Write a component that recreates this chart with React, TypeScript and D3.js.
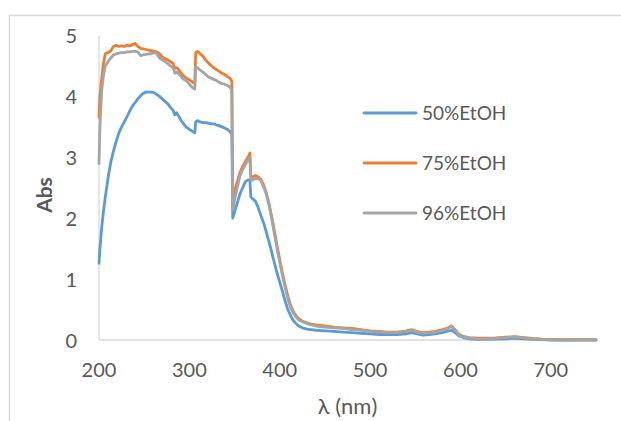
import React from "react";
import * as d3 from "d3";

// Wavelength grid (nm) shared by the three spectra
const wavelengths = [
  200, 201, 203, 205, 207, 210, 213, 216, 219, 222, 225, 228, 231, 234, 237, 240, 243, 246, 249, 252,
  255, 258, 261, 264, 267, 270, 273, 276, 279, 282, 284, 286, 288, 291, 294, 297, 300, 303, 305, 306,
  307, 309, 312, 315, 318, 321, 324, 327, 330, 333, 336, 339, 342, 345, 347, 348, 350, 353, 356, 359,
  362, 365, 367, 368, 370, 373, 376, 379, 382, 385, 388, 391, 394, 397, 400, 403, 406, 409, 412, 415,
  418, 421, 425, 430, 435, 440, 450, 460, 470, 480, 490, 500, 510, 520, 530, 540, 546, 552, 558, 565,
  572, 580, 585, 590, 594, 598, 603, 610, 620, 630, 640, 650, 660, 670, 680, 690, 700, 710, 720, 730,
  740, 750,
];

const abs50 = [
  1.26, 1.5, 1.85, 2.12, 2.35, 2.66, 2.92, 3.1, 3.26, 3.4, 3.5, 3.58, 3.67, 3.76, 3.84, 3.9, 3.96, 4.01, 4.05, 4.07,
  4.07, 4.07, 4.06, 4.03, 4.0, 3.96, 3.92, 3.88, 3.82, 3.77, 3.7, 3.73, 3.68, 3.6, 3.54, 3.49, 3.46, 3.43, 3.41, 3.4,
  3.58, 3.6, 3.58, 3.57, 3.57, 3.56, 3.55, 3.55, 3.53, 3.52, 3.5, 3.48, 3.46, 3.42, 3.38, 2.0, 2.1, 2.25, 2.4, 2.5,
  2.6, 2.63, 2.62, 2.35, 2.32, 2.28, 2.18, 2.05, 1.93, 1.78, 1.62, 1.45, 1.27, 1.1, 0.95, 0.8, 0.64, 0.5, 0.4, 0.32,
  0.27, 0.23, 0.2, 0.18, 0.17, 0.16, 0.15, 0.14, 0.13, 0.12, 0.11, 0.1, 0.09, 0.09, 0.09, 0.1, 0.12, 0.1, 0.08, 0.09,
  0.1, 0.12, 0.14, 0.16, 0.12, 0.07, 0.04, 0.02, 0.01, 0.01, 0.015, 0.02, 0.03, 0.02, 0.01, 0.005, 0.0, 0.0, 0.0, 0.0,
  0.0, 0.0,
];

const abs75 = [
  3.66, 4.0, 4.3, 4.55, 4.7, 4.72, 4.75, 4.82, 4.84, 4.82, 4.83, 4.82, 4.84, 4.83, 4.85, 4.87, 4.82, 4.79, 4.78, 4.77,
  4.76, 4.75, 4.74, 4.73, 4.7, 4.65, 4.62, 4.6, 4.57, 4.54, 4.46, 4.47, 4.44, 4.38, 4.33, 4.3, 4.27, 4.24, 4.22, 4.21,
  4.72, 4.74, 4.7, 4.66, 4.6, 4.55, 4.51, 4.47, 4.44, 4.41, 4.38, 4.36, 4.33, 4.3, 4.25, 2.3, 2.45, 2.6, 2.75, 2.85,
  2.93, 3.0, 3.07, 2.68, 2.68, 2.7, 2.68, 2.64, 2.55, 2.42, 2.25, 2.03, 1.8, 1.55, 1.32, 1.1, 0.9, 0.72, 0.57, 0.47,
  0.4, 0.35, 0.31, 0.28, 0.26, 0.25, 0.23, 0.21, 0.2, 0.19, 0.17, 0.15, 0.14, 0.13, 0.13, 0.15, 0.17, 0.14, 0.12, 0.13,
  0.14, 0.17, 0.19, 0.23, 0.17, 0.1, 0.06, 0.04, 0.03, 0.03, 0.035, 0.045, 0.055, 0.04, 0.025, 0.015, 0.01, 0.01, 0.005, 0.005,
  0.005, 0.005,
];

const abs96 = [
  2.9, 3.5, 4.1, 4.35, 4.5, 4.57, 4.63, 4.68, 4.7, 4.71, 4.72, 4.72, 4.73, 4.73, 4.74, 4.74, 4.73, 4.67, 4.68, 4.69,
  4.7, 4.7, 4.72, 4.7, 4.63, 4.6, 4.57, 4.54, 4.5, 4.47, 4.38, 4.4, 4.37, 4.32, 4.28, 4.25, 4.2, 4.15, 4.13, 4.12,
  4.48, 4.47, 4.43, 4.4, 4.36, 4.32, 4.3, 4.28, 4.26, 4.23, 4.21, 4.2, 4.18, 4.15, 4.1, 2.13, 2.3, 2.5, 2.7, 2.8,
  2.88, 2.95, 3.0, 2.62, 2.63, 2.65, 2.65, 2.62, 2.52, 2.4, 2.22, 2.0, 1.75, 1.5, 1.28, 1.06, 0.86, 0.68, 0.53, 0.44,
  0.38, 0.33, 0.3, 0.27, 0.25, 0.23, 0.21, 0.2, 0.19, 0.17, 0.16, 0.14, 0.13, 0.12, 0.12, 0.14, 0.16, 0.13, 0.11, 0.12,
  0.13, 0.16, 0.18, 0.23, 0.16, 0.09, 0.05, 0.03, 0.02, 0.02, 0.03, 0.04, 0.05, 0.035, 0.02, 0.01, 0.005, 0.0, 0.0, 0.0,
  0.0, 0.0,
];

const seriesNames = ["50%EtOH", "75%EtOH", "96%EtOH"];
const seriesColors = ["#5B9BD5", "#ED7D31", "#A5A5A5"];
const xTicks = [200, 300, 400, 500, 600, 700];
const yTicks = [0, 1, 2, 3, 4, 5];

const W = 621;
const H = 421;
const plot = { left: 99, right: 596, top: 35.5, bottom: 340 };
const font = "Lato, 'Open Sans', sans-serif";
const textColor = "#595959";

export default function App() {
  const x = d3.scaleLinear().domain([200, 750]).range([plot.left, plot.right]);
  const y = d3.scaleLinear().domain([0, 5]).range([plot.bottom, plot.top]);
  const line = d3
    .line<number>()
    .x((_, i) => x(wavelengths[i]))
    .y((d) => y(d));

  const series = [abs50, abs75, abs96];

  return (
    <svg
      width={W}
      height={H}
      style={{ position: "absolute", left: 0, top: 0, background: "#fff" }}
    >
      {/* chart frame */}
      <path d={`M9.5,${H + 2} V15.5 H${W + 2}`} fill="none" stroke="#d9d9d9" strokeWidth={1.5} />

      {/* axes */}
      <line x1={plot.left} x2={plot.left} y1={plot.top} y2={plot.bottom} stroke="#d9d9d9" strokeWidth={1.3} />
      <line x1={plot.left} x2={plot.right} y1={plot.bottom} y2={plot.bottom} stroke="#d9d9d9" strokeWidth={1.3} />

      {yTicks.map((t) => (
        <text
          key={`y${t}`}
          x={77}
          y={y(t) + 7.5}
          textAnchor="end"
          fontFamily={font}
          fontSize={20}
          fill={textColor}
        >
          {t}
        </text>
      ))}
      {xTicks.map((t) => (
        <text
          key={`x${t}`}
          x={x(t)}
          y={plot.bottom + 37}
          textAnchor="middle"
          fontFamily={font}
          fontSize={20}
          fill={textColor}
        >
          {t}
        </text>
      ))}

      <text
        transform={`translate(52,195) rotate(-90)`}
        textAnchor="middle"
        fontFamily={font}
        fontSize={21}
        fontWeight="bold"
        fill={textColor}
      >
        Abs
      </text>
      <text
        x={(plot.left + plot.right) / 2}
        y={414}
        textAnchor="middle"
        fontFamily={font}
        fontSize={22}
        fill={textColor}
      >
        λ (nm)
      </text>

      {/* spectra */}
      {series.map((vals, i) => (
        <path
          key={seriesNames[i]}
          d={line(vals) || ""}
          fill="none"
          stroke={seriesColors[i]}
          strokeWidth={2.8}
          strokeLinejoin="round"
          strokeLinecap="round"
        />
      ))}

      {/* legend */}
      {seriesNames.map((name, i) => {
        const ly = 113 + i * 50;
        return (
          <g key={`leg${name}`}>
            <line x1={364} x2={416} y1={ly} y2={ly} stroke={seriesColors[i]} strokeWidth={2.8} strokeLinecap="round" />
            <text x={422} y={ly + 7} fontFamily={font} fontSize={19} fill={textColor}>
              {name}
            </text>
          </g>
        );
      })}
    </svg>
  );
}
